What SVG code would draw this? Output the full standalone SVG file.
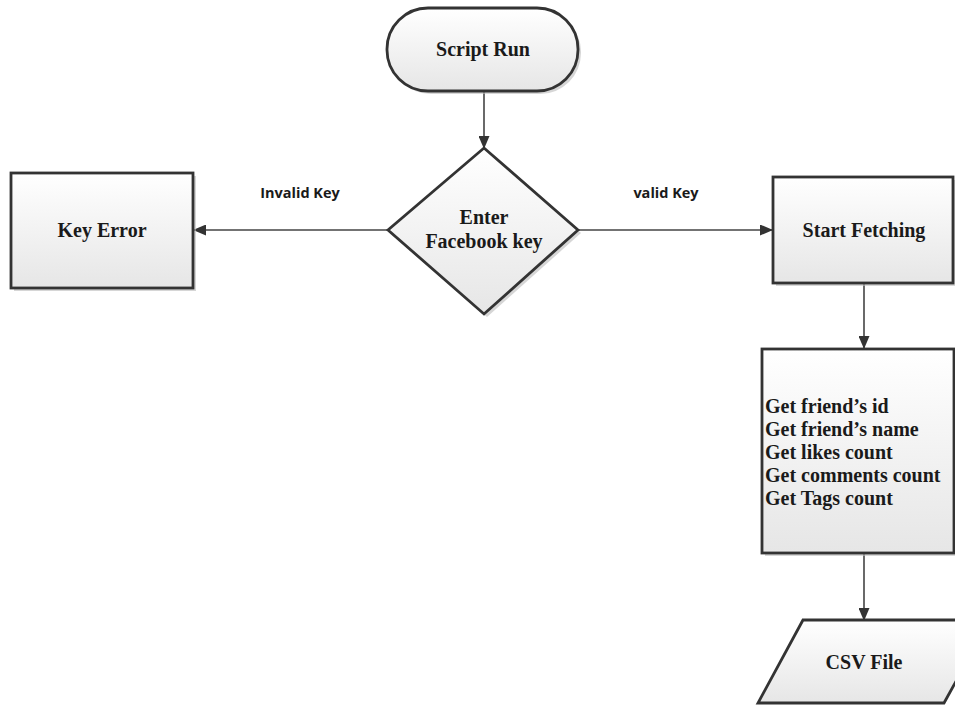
<svg xmlns="http://www.w3.org/2000/svg" width="955" height="705" viewBox="0 0 955 705">
<defs>
<linearGradient id="g" x1="0" y1="0" x2="0" y2="1">
<stop offset="0" stop-color="#ffffff"/>
<stop offset="1" stop-color="#e6e6e6"/>
</linearGradient>
<marker id="arr" markerWidth="13" markerHeight="11" refX="12" refY="5.5" orient="auto" markerUnits="userSpaceOnUse">
<path d="M0,0 L13,5.5 L0,11 Z" fill="#333"/>
</marker>
</defs>
<style>
.shape{fill:url(#g);stroke:#333;stroke-width:2.8}
.shadow{fill:#bbb;opacity:0.6}
.t{font-family:"Liberation Serif",serif;font-weight:bold;font-size:20px;fill:#1a1a1a}
.lbl{font-family:"Open Sans","Liberation Sans",sans-serif;font-weight:bold;font-size:14.5px;fill:#1a1a1a}
.c{stroke:#444;stroke-width:1.6;fill:none;marker-end:url(#arr)}
</style>
<rect width="955" height="705" fill="#fff"/>
<g id="connectors">
<line class="c" x1="484" y1="92" x2="484" y2="148"/>
<line class="c" x1="388" y1="230" x2="194" y2="230"/>
<line class="c" x1="578" y1="230" x2="772" y2="230"/>
<line class="c" x1="864" y1="284" x2="864" y2="348"/>
<line class="c" x1="864" y1="554" x2="864" y2="620"/>
<text class="lbl" x="300" y="198" text-anchor="middle">Invalid Key</text>
<text class="lbl" x="666" y="198" text-anchor="middle">valid Key</text>
</g>
<g id="script-run">
<rect class="shadow" x="390" y="11" width="191" height="83" rx="41"/>
<rect class="shape" x="387" y="8" width="191" height="83" rx="41"/>
<text class="t" x="483" y="56" text-anchor="middle">Script Run</text>
</g>
<g id="enter-key">
<polygon class="shadow" points="487,151 581,233 487,317 391,233"/>
<polygon class="shape" points="484,148 578,230 484,314 388,230"/>
<text class="t" x="484" y="224" text-anchor="middle">Enter</text>
<text class="t" x="484" y="248" text-anchor="middle">Facebook key</text>
</g>
<g id="key-error">
<rect class="shadow" x="14" y="176" width="182" height="115"/>
<rect class="shape" x="11" y="173" width="182" height="115"/>
<text class="t" x="102" y="237" text-anchor="middle">Key Error</text>
</g>
<g id="start-fetching">
<rect class="shadow" x="776" y="180" width="180" height="106"/>
<rect class="shape" x="773" y="177" width="180" height="106"/>
<text class="t" x="864" y="237" text-anchor="middle">Start Fetching</text>
</g>
<g id="get-data">
<rect class="shadow" x="765" y="352" width="192" height="204"/>
<rect class="shape" x="762" y="349" width="192" height="204"/>
<text class="t" x="765" y="413">Get friend’s id</text>
<text class="t" x="765" y="436">Get friend’s name</text>
<text class="t" x="765" y="459">Get likes count</text>
<text class="t" x="765" y="482">Get comments count</text>
<text class="t" x="765" y="505">Get Tags count</text>
</g>
<g id="csv-file">
<polygon class="shape" points="803,620 990,620 944,703 758,703"/>
<text class="t" x="864" y="669" text-anchor="middle">CSV File</text>
</g>
</svg>
